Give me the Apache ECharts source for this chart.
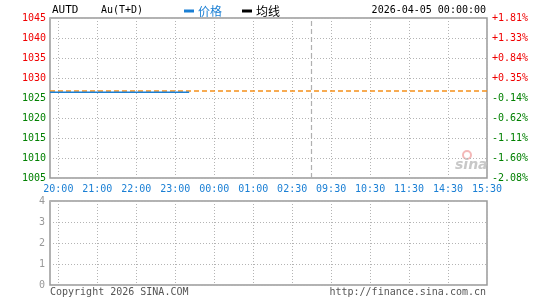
<!DOCTYPE html>
<html><head><meta charset="utf-8">
<script src="https://cdn.jsdelivr.net/npm/echarts@6/dist/echarts.min.js"></script>
<style>html,body{margin:0;padding:0;background:#fff}#c{width:540px;height:300px}</style>
</head><body><div id="c"></div>
<script>
// ---- data ----
const timeLabels = ['20:00','21:00','22:00','23:00','00:00','01:00','02:30','09:30','10:30','11:30','14:30','15:30'];
const priceTicks = [1045,1040,1035,1030,1025,1020,1015,1010,1005];
const pctLabels = ['+1.81%','+1.33%','+0.84%','+0.35%','-0.14%','-0.62%','-1.11%','-1.60%','-2.08%'];
const volTicks = [0,1,2,3,4];
const prevClose = 1026.7;
const sessionBreakSlot = 94;
const priceValues = [1026.45,1026.45,1026.45,1026.45,1026.45,1026.45,1026.45,1026.45,1026.45,1026.45,
  1026.45,1026.45,1026.45,1026.45,1026.45,1026.45,1026.45,1026.45,1026.45,1026.45,
  1026.45,1026.45,1026.45,1026.45,1026.45,1026.45,1026.45,1026.45,1026.45,1026.45,
  1026.45,1026.45,1026.45,1026.45,1026.45,1026.45,1026.45,1026.45,1026.45,1026.45,
  1026.45,1026.45,1026.45,1026.45,1026.45,1026.45,1026.45,1026.45,1026.45,1026.45,1026.45];
const avgValues = [];
const volValues = [];

// ---- slot layout (label every 14 slots, 3 slot lead-in) ----
const LEAD = 3, STEP = 14;
const nSlots = LEAD + STEP * (timeLabels.length - 1) + 1;
const slots = [];
for (let i = 0; i < nSlots; i++) slots.push(String(i));
const isMark = (i) => i >= LEAD && (i - LEAD) % STEP === 0;
const labelOf = (i) => isMark(i) ? timeLabels[(i - LEAD) / STEP] : '';

const MONO = '"DejaVu Sans Mono", "Liberation Mono", monospace';
const gridLine = { show: true, lineStyle: { color: '#b4b4b4', type: [1, 2], width: 1 } };
const RED = '#f00000', GREEN = '#008000', BLUE = '#1a7fd4', ORANGE = '#f5901a';

const chart = echarts.init(document.getElementById('c'), null, { renderer: 'canvas' });
chart.setOption({
  animation: false,
  legend: {
    left: 179, top: 0, icon: 'rect', itemWidth: 10, itemHeight: 3, itemGap: 20,
    textStyle: { fontSize: 12, fontFamily: '"Noto Sans CJK SC", sans-serif', padding: [0, 0, 0, -1] },
    data: [{ name: '价格', textStyle: { color: BLUE } }, { name: '均线', textStyle: { color: '#000' } }]
  },
  grid: [
    { left: 50, right: 53, top: 18, height: 160, show: true, borderColor: '#999', borderWidth: 1.5, backgroundColor: 'transparent' },
    { left: 50, right: 53, top: 201, height: 84, show: true, borderColor: '#999', borderWidth: 1.5, backgroundColor: 'transparent' }
  ],
  xAxis: [
    { type: 'category', gridIndex: 0, data: slots, boundaryGap: false,
      axisLine: { show: false }, axisTick: { show: false },
      splitLine: Object.assign({ interval: (i) => isMark(i) }, gridLine),
      axisLabel: { interval: (i) => isMark(i), formatter: (v) => labelOf(+v), color: BLUE, fontSize: 10, fontFamily: MONO, margin: 6 } },
    { type: 'category', gridIndex: 1, data: slots, boundaryGap: false,
      axisLine: { show: false }, axisTick: { show: false },
      splitLine: Object.assign({ interval: (i) => isMark(i) }, gridLine),
      axisLabel: { show: false } }
  ],
  yAxis: [
    { type: 'value', gridIndex: 0, min: priceTicks[priceTicks.length - 1], max: priceTicks[0], interval: 5,
      axisLine: { show: false }, axisTick: { show: false }, splitLine: gridLine,
      axisLabel: { fontSize: 10, fontFamily: MONO, margin: 4, formatter: (v) => String(v),
        color: (v) => (+v > prevClose ? RED : GREEN) } },
    { type: 'value', gridIndex: 0, position: 'right', min: priceTicks[priceTicks.length - 1], max: priceTicks[0], interval: 5,
      axisLine: { show: false }, axisTick: { show: false }, splitLine: { show: false },
      axisLabel: { fontSize: 10, fontFamily: MONO, margin: 5,
        formatter: (v) => pctLabels[priceTicks.indexOf(+v)],
        color: (v) => (pctLabels[priceTicks.indexOf(+v)] || '').charAt(0) === '+' ? RED : GREEN } },
    { type: 'value', gridIndex: 1, min: volTicks[0], max: volTicks[volTicks.length - 1], interval: 1,
      axisLine: { show: false }, axisTick: { show: false }, splitLine: gridLine,
      axisLabel: { fontSize: 10, fontFamily: MONO, color: '#999', margin: 5 } }
  ],
  series: [
    { name: '价格', type: 'line', xAxisIndex: 0, yAxisIndex: 0, data: priceValues, showSymbol: false,
      lineStyle: { color: BLUE, width: 1.5 }, itemStyle: { color: BLUE }, z: 5 },
    { name: '均线', type: 'line', xAxisIndex: 0, yAxisIndex: 0, data: avgValues, showSymbol: false,
      lineStyle: { color: '#000', width: 1 }, itemStyle: { color: '#000' },
      markLine: { silent: true, symbol: ['none', 'none'], label: { show: false },
        data: [
          { yAxis: prevClose, lineStyle: { color: ORANGE, type: [5, 3], width: 1.5, opacity: 1 } },
          { xAxis: sessionBreakSlot, lineStyle: { color: '#b0b0b0', type: [5, 3], width: 1.2, opacity: 1 } }
        ] } },
    { name: '成交量', type: 'bar', xAxisIndex: 1, yAxisIndex: 2, data: volValues }
  ],
  graphic: [
    { type: 'text', left: 52, top: 5, style: { text: 'AUTD', font: '11px ' + MONO, fill: '#000' } },
    { type: 'text', left: 101, top: 5, style: { text: 'Au(T+D)', font: '10px ' + MONO, fill: '#000' } },
    { type: 'text', right: 54, top: 5, style: { text: '2026-04-05 00:00:00', font: '10px ' + MONO, fill: '#000' } },
    { type: 'text', left: 50, top: 287, style: { text: 'Copyright 2026 SINA.COM', font: '10px ' + MONO, fill: '#555' } },
    { type: 'text', right: 54, top: 287, style: { text: 'http://finance.sina.com.cn', font: '10px ' + MONO, fill: '#555' } },
    { type: 'circle', shape: { cx: 467, cy: 155, r: 4 }, style: { fill: 'none', stroke: '#f4b8b8', lineWidth: 2 } },
    { type: 'text', left: 455, top: 158, style: { text: 'sina', font: 'italic bold 14px "DejaVu Sans", sans-serif', fill: '#c8c8c8' } }
  ]
});
</script></body></html>
